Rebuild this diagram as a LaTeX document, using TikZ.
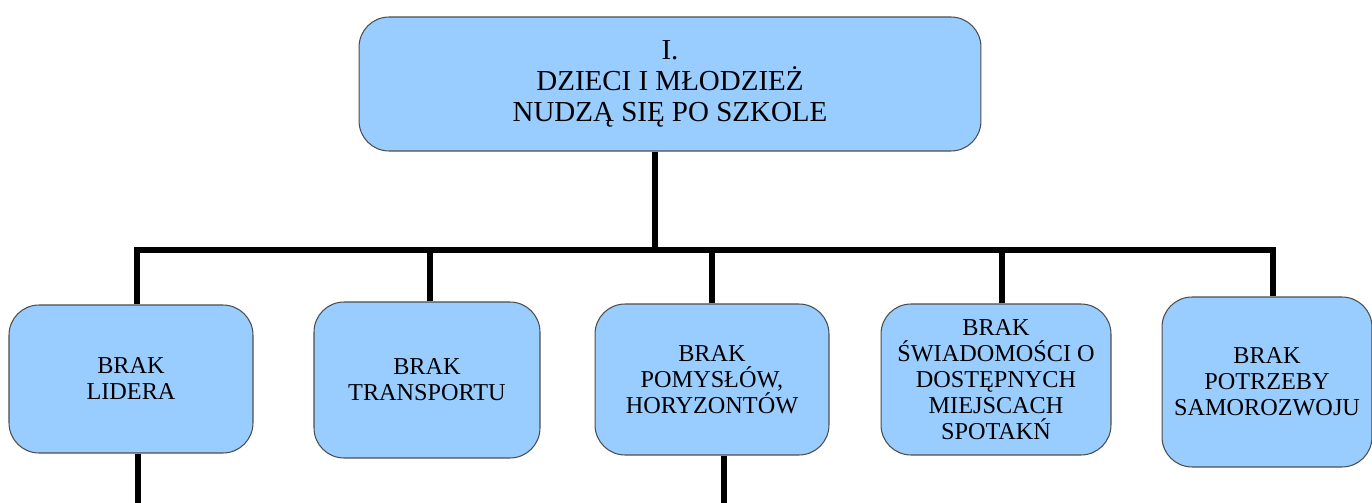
\documentclass[tikz,border=0pt]{standalone}
\usepackage{fontspec}
\setmainfont{Liberation Serif}
\usepackage{tikz}
\usetikzlibrary{positioning}
\definecolor{jasnyniebieski}{HTML}{99CCFF}

\begin{document}
\begin{tikzpicture}[x=0.02cm,y=-0.02cm]
		\tikzstyle{Pudlo}=[draw=black!70,line width=0.6pt,fill=jasnyniebieski,
		  rounded corners=0.6cm,align=center,inner sep=2pt,
		  font=\fontsize{13.8}{14.8}\selectfont]
		\tikzstyle{Kreska}=[line width=3.4pt,black]
		\useasboundingbox (0,0) rectangle (1372,503);
		% problem glowny
		\node[Pudlo,minimum width=12.44cm,minimum height=2.68cm,
		  font=\fontsize{16.5}{17.5}\selectfont] (glowny) at (670,84)
		  {I.\\DZIECI I MŁODZIEŻ\\NUDZĄ SIĘ PO SZKOLE};
		% przyczyny
		\node[Pudlo,minimum width=4.88cm,minimum height=2.96cm] (lider) at (131,379)
		  {BRAK\\LIDERA};
		\node[Pudlo,minimum width=4.52cm,minimum height=3.12cm] (transport) at (427,380)
		  {BRAK\\TRANSPORTU};
		\node[Pudlo,minimum width=4.68cm,minimum height=3.02cm] (pomysly) at (712,379.5)
		  {BRAK\\POMYSŁÓW,\\HORYZONTÓW};
		\node[Pudlo,minimum width=4.6cm,minimum height=3.02cm] (swiadomosc) at (996,379.5)
		  {BRAK\\ŚWIADOMOŚCI O\\DOSTĘPNYCH\\MIEJSCACH\\SPOTAKŃ};
		\node[Pudlo,minimum width=4.2cm,minimum height=3.4cm] (samorozwoj) at (1267,382)
		  {BRAK\\POTRZEBY\\SAMOROZWOJU};
		% punkty na szynie
		\coordinate (szyna) at (655,250);
		\coordinate (s1) at (137,250);
		\coordinate (s2) at (430,250);
		\coordinate (s3) at (712,250);
		\coordinate (s4) at (1002,250);
		\coordinate (s5) at (1273,250);
		\coordinate (dol1) at (138,503);
		\coordinate (dol2) at (724,503);
		% polaczenia
		\draw[Kreska] (glowny.south -| szyna) -- (szyna);
		\draw[Kreska] (lider.north -| s1) -- (s1) -- (s5) -- (samorozwoj.north -| s5);
		\draw[Kreska] (transport.north -| s2) -- (s2);
		\draw[Kreska] (pomysly.north -| s3) -- (s3);
		\draw[Kreska] (swiadomosc.north -| s4) -- (s4);
		\draw[Kreska] (lider.south -| dol1) -- (dol1);
		\draw[Kreska] (pomysly.south -| dol2) -- (dol2);
	\end{tikzpicture}
\end{document}
